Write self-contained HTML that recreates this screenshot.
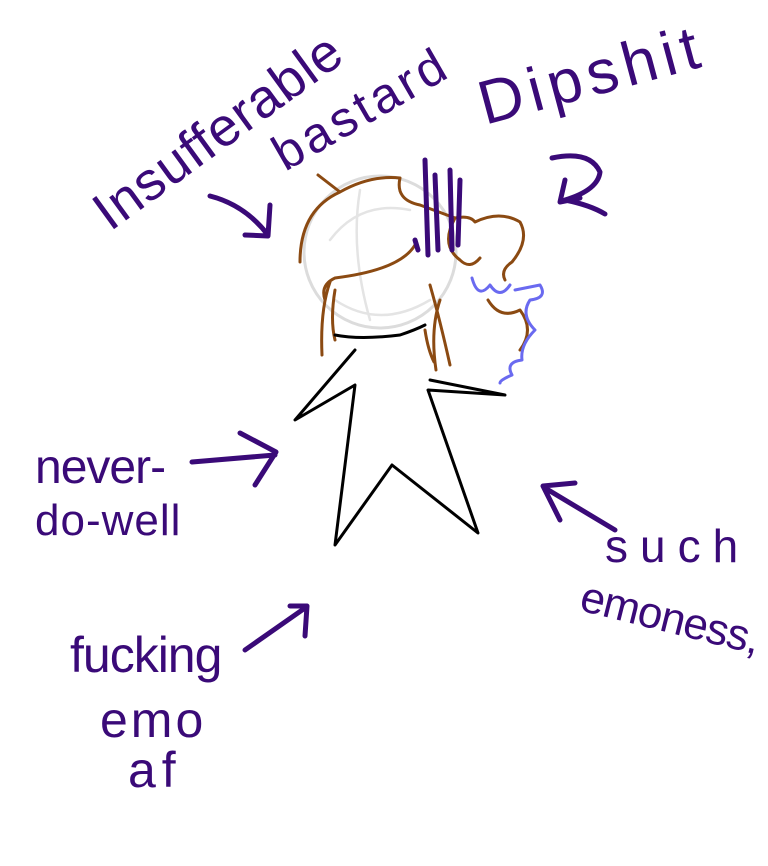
<!DOCTYPE html>
<html><head><meta charset="utf-8"><style>
html,body{margin:0;padding:0;background:#fff;}
svg{display:block}
text{font-family:"Liberation Sans",sans-serif;fill:#3a0a78;}
</style></head><body>
<svg width="768" height="866" viewBox="0 0 768 866" xmlns="http://www.w3.org/2000/svg">
<g fill="none" stroke-linecap="round" stroke-linejoin="round">
<circle cx="380" cy="252" r="76" stroke="#dcdcdc" stroke-width="3"/>
<path d="M330 240 Q360 200 410 210 M335 300 Q380 330 430 300 M360 190 Q350 250 370 320" stroke="#e4e4e4" stroke-width="2.5"/>
<path d="M318 175 L340 192 Q300 210 300 262 M340 192 Q370 175 400 178 Q395 200 420 205 L455 218 Q470 215 475 222 Q500 210 520 222 Q530 240 512 262 Q500 270 505 280 M455 218 Q440 245 460 260 Q470 270 480 258" stroke="#8b4a12" stroke-width="3"/>
<path d="M415 245 Q400 270 335 278 Q320 285 325 300 M330 282 Q320 310 322 355 M335 290 Q330 320 335 340 M430 285 Q440 320 450 365 M440 300 Q430 330 436 370 M425 330 Q428 350 434 362 M488 300 Q500 320 520 310 Q535 330 520 350" stroke="#8b4a12" stroke-width="3"/>
<path d="M472 278 Q478 300 490 285 Q500 300 510 285 M515 290 L540 285 Q548 298 530 300 Q520 315 535 330 Q520 345 522 360 Q505 362 512 375 Q500 380 500 383" stroke="#6a6af0" stroke-width="3"/>
<path d="M335 335 Q360 340 400 335 Q415 330 425 325 M355 350 L295 420 L355 385 L335 545 L392 465 L478 533 L428 390 L505 395 L430 380" stroke="#000" stroke-width="3"/>
<path d="M425 160 L428 255 M435 175 L438 250 M450 170 L452 250 M460 180 L458 245 M415 240 L418 250" stroke="#3a0a78" stroke-width="5"/>
<path d="M210 196 Q245 205 268 235 M245 235 L268 236 L270 205" stroke="#3a0a78" stroke-width="5"/>
<path d="M552 158 Q590 150 600 172 Q598 190 565 200 Q590 205 605 214 M565 180 L560 202 L580 198" stroke="#3a0a78" stroke-width="5"/>
<path d="M192 462 L275 455 M240 433 L276 452 L255 485" stroke="#3a0a78" stroke-width="5"/>
<path d="M245 650 L305 608 M290 606 L307 606 L305 636" stroke="#3a0a78" stroke-width="5"/>
<path d="M615 530 L545 488 M575 483 L543 486 L560 520" stroke="#3a0a78" stroke-width="5"/>
</g>
<text x="110" y="232" font-size="54" transform="rotate(-36 110 232)" letter-spacing="1">Insufferable</text>
<text x="285" y="172" font-size="50" transform="rotate(-30 285 172)" letter-spacing="4">bastard</text>
<text x="485" y="125" font-size="62" transform="rotate(-15 485 125)" letter-spacing="6">Dipshit</text>
<text x="35" y="483" font-size="48" letter-spacing="-1">never-</text>
<text x="35" y="535" font-size="44" letter-spacing="1">do-well</text>
<text x="70" y="672" font-size="50" letter-spacing="-1">fucking</text>
<text x="100" y="737" font-size="50" letter-spacing="3">emo</text>
<text x="128" y="787" font-size="50" letter-spacing="6">af</text>
<text x="605" y="562" font-size="46" letter-spacing="12">such</text>
<text x="578" y="610" font-size="44" transform="rotate(14 578 610)" letter-spacing="-1">emoness,</text>
</svg>
</body></html>
